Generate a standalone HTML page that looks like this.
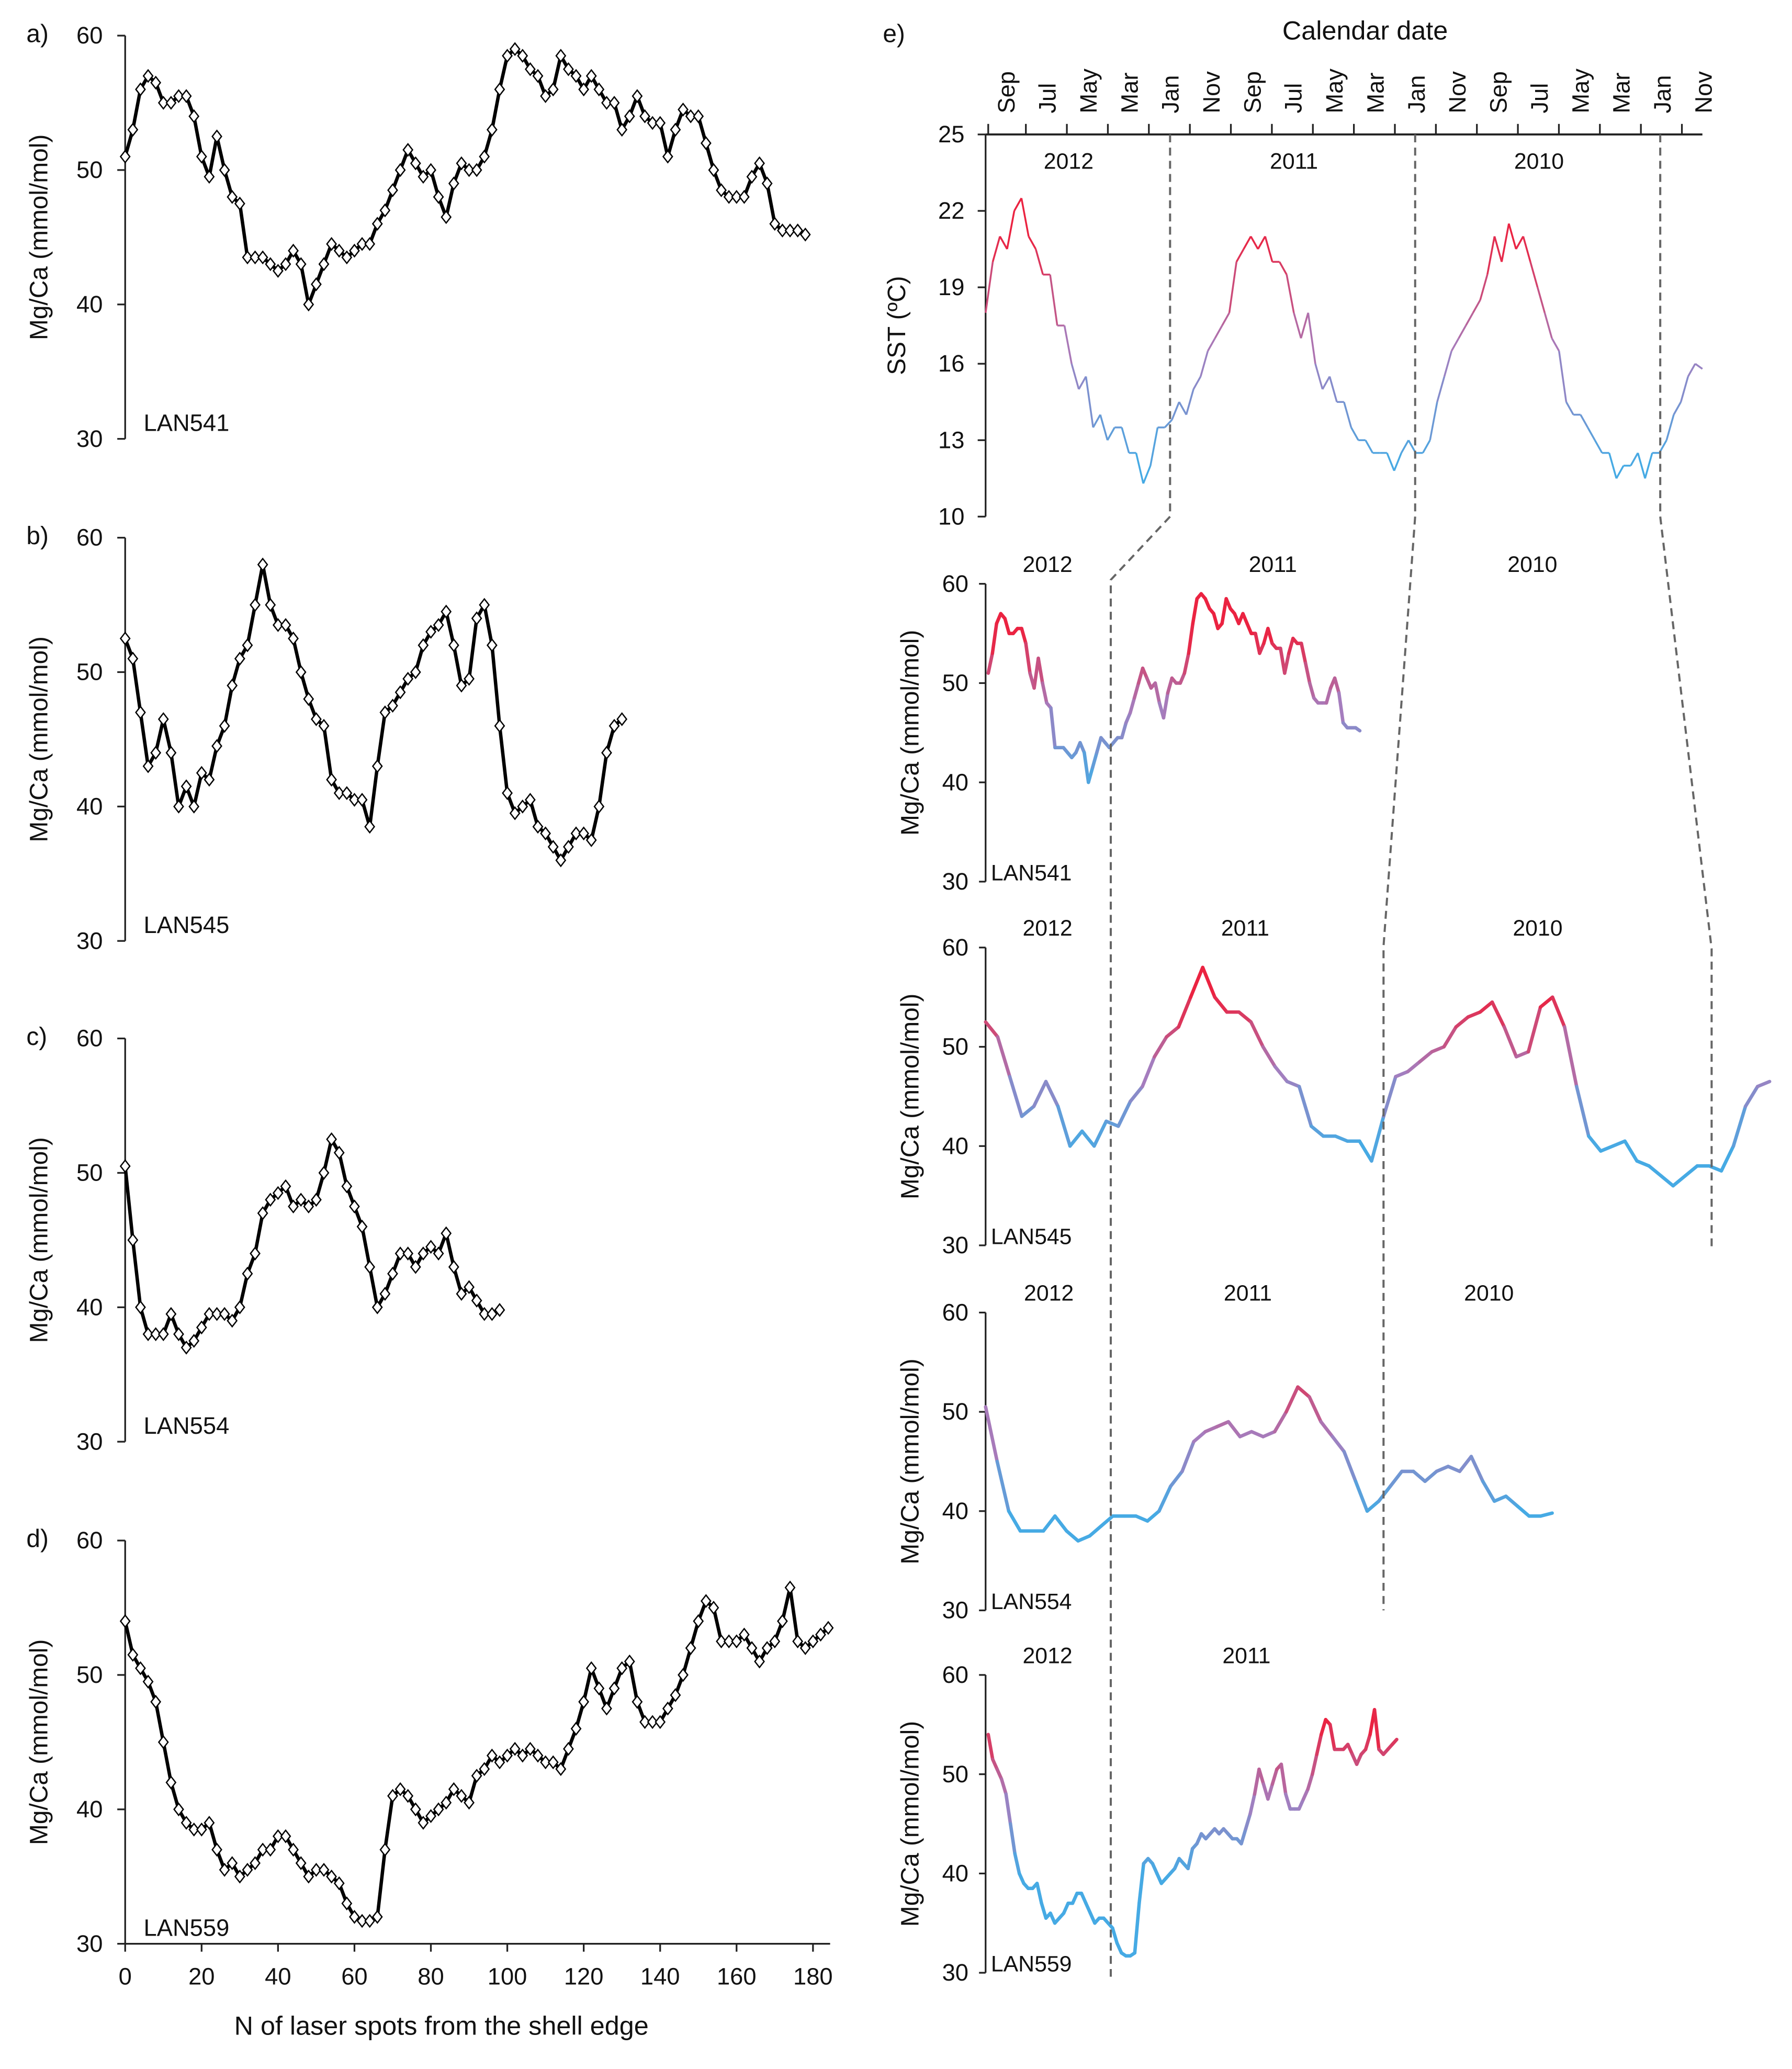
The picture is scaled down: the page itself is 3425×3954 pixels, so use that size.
<!DOCTYPE html>
<html><head><meta charset="utf-8"><style>
html,body{margin:0;padding:0;background:#fff}
svg{display:block}
text{font-family:"Liberation Sans",sans-serif;fill:#111}
</style></head><body>
<svg id="fig" width="3425" height="3954" viewBox="0 0 1360 1570" xmlns="http://www.w3.org/2000/svg"></svg>
<script>
// ---------- data ----------
const spotsA=[0,2,4,6,8,10,12,14,16,18,20,22,24,26,28,30,32,34,36,38,40,42,44,46,48,50,52,54,56,58,60,62,64,66,68,70,72,74,76,78,80,82,84,86,88,90,92,94,96,98,100,102,104,106,108,110,112,114,116,118,120,122,124,126,128,130,132,134,136,138,140,142,144,146,148,150,152,154,156,158,160,162,164,166,168,170,172,174,176,178];
const mgA=[51,53,56,57,56.5,55,55,55.5,55.5,54,51,49.5,52.5,50,48,47.5,43.5,43.5,43.5,43,42.5,43,44,43,40,41.5,43,44.5,44,43.5,44,44.5,44.5,46,47,48.5,50,51.5,50.5,49.5,50,48,46.5,49,50.5,50,50,51,53,56,58.5,59,58.5,57.5,57,55.5,56,58.5,57.5,57,56,57,56,55,55,53,54,55.5,54,53.5,53.5,51,53,54.5,54,54,52,50,48.5,48,48,48,49.5,50.5,49,46,45.5,45.5,45.5,45.2];
const spotsB=[0,2,4,6,8,10,12,14,16,18,20,22,24,26,28,30,32,34,36,38,40,42,44,46,48,50,52,54,56,58,60,62,64,66,68,70,72,74,76,78,80,82,84,86,88,90,92,94,96,98,100,102,104,106,108,110,112,114,116,118,120,122,124,126,128,130];
const mgB=[52.5,51,47,43,44,46.5,44,40,41.5,40,42.5,42,44.5,46,49,51,52,55,58,55,53.5,53.5,52.5,50,48,46.5,46,42,41,41,40.5,40.5,38.5,43,47,47.5,48.5,49.5,50,52,53,53.5,54.5,52,49,49.5,54,55,52,46,41,39.5,40,40.5,38.5,38,37,36,37,38,38,37.5,40,44,46,46.5];
const spotsC=[0,2,4,6,8,10,12,14,16,18,20,22,24,26,28,30,32,34,36,38,40,42,44,46,48,50,52,54,56,58,60,62,64,66,68,70,72,74,76,78,80,82,84,86,88,90,92,94,96,98];
const mgC=[50.5,45,40,38,38,38,39.5,38,37,37.5,38.5,39.5,39.5,39.5,39,40,42.5,44,47,48,48.5,49,47.5,48,47.5,48,50,52.5,51.5,49,47.5,46,43,40,41,42.5,44,44,43,44,44.5,44,45.5,43,41,41.5,40.5,39.5,39.5,39.8];
const spotsD=[0,2,4,6,8,10,12,14,16,18,20,22,24,26,28,30,32,34,36,38,40,42,44,46,48,50,52,54,56,58,60,62,64,66,68,70,72,74,76,78,80,82,84,86,88,90,92,94,96,98,100,102,104,106,108,110,112,114,116,118,120,122,124,126,128,130,132,134,136,138,140,142,144,146,148,150,152,154,156,158,160,162,164,166,168,170,172,174,176,178,180,182,184];
const mgD=[54,51.5,50.5,49.5,48,45,42,40,39,38.5,38.5,39,37,35.5,36,35,35.5,36,37,37,38,38,37,36,35,35.5,35.5,35,34.5,33,32,31.7,31.7,32,37,41,41.5,41,40,39,39.5,40,40.5,41.5,41,40.5,42.5,43,44,43.5,44,44.5,44,44.5,44,43.5,43.5,43,44.5,46,48,50.5,49,47.5,49,50.5,51,48,46.5,46.5,46.5,47.5,48.5,50,52,54,55.5,55,52.5,52.5,52.5,53,52,51,52,52.5,54,56.5,52.5,52,52.5,53,53.5];
const sst=[18,20,21,20.5,22,22.5,21,20.5,19.5,19.5,17.5,17.5,16,15,15.5,13.5,14,13,13.5,13.5,12.5,12.5,11.3,12,13.5,13.5,13.8,14.5,14,15,15.5,16.5,17,17.5,18,20,20.5,21,20.5,21,20,20,19.5,18,17,18,16,15,15.5,14.5,14.5,13.5,13,13,12.5,12.5,12.5,11.8,12.5,13,12.5,12.5,13,14.5,15.5,16.5,17,17.5,18,18.5,19.5,21,20,21.5,20.5,21,20,19,18,17,16.5,14.5,14,14,13.5,13,12.5,12.5,11.5,12,12,12.5,11.5,12.5,12.5,13,14,14.5,15.5,16,15.8];
const leftTicks=[30,40,50,60];
const xTicks=[0,20,40,60,80,100,120,140,160,180];
const sstTicks=[10,13,16,19,22,25];
const months=["Sep","Jul","May","Mar","Jan","Nov","Sep","Jul","May","Mar","Jan","Nov","Sep","Jul","May","Mar","Jan","Nov"];

// ---------- helpers ----------
const NS="http://www.w3.org/2000/svg";
const svg=document.getElementById('fig');
function mk(tag,attrs,parent){const e=document.createElementNS(NS,tag);for(const k in attrs)e.setAttribute(k,attrs[k]);(parent||svg).appendChild(e);return e;}
function txt(s,x,y,size,anchor,parent,rot){const t=mk('text',{x:x,y:y,'font-size':size,'text-anchor':anchor||'start'},parent);if(rot)t.setAttribute('transform','rotate('+rot+' '+x+' '+y+')');t.textContent=s;return t;}
function col(v){let t=Math.max(0,Math.min(1,(v-40)/15));const b=[70,170,228],p=[165,125,190],r=[235,35,65];let a,c,u;if(t<0.5){a=b;c=p;u=t*2}else{a=p;c=r;u=(t-0.5)*2}return 'rgb('+a.map((q,i)=>Math.round(q+(c[i]-q)*u)).join(',')+')';}

// ---------- left panels ----------
const X0=95,XS=2.9;
const xL=s=>X0+s*XS;
const panels=[{lab:'a)',name:'LAN541',top:27,s:spotsA,v:mgA},{lab:'b)',name:'LAN545',top:408,s:spotsB,v:mgB},{lab:'c)',name:'LAN554',top:788,s:spotsC,v:mgC},{lab:'d)',name:'LAN559',top:1169,s:spotsD,v:mgD}];
panels.forEach((P,pi)=>{
  const g=mk('g',{});
  
  
  const yv=v=>P.top+(60-v)*(306/30);
  mk('line',{x1:X0,y1:P.top,x2:X0,y2:P.top+306,stroke:'#222','stroke-width':1.3},g);
  leftTicks.forEach(t=>{mk('line',{x1:X0-6,y1:yv(t),x2:X0,y2:yv(t),stroke:'#222','stroke-width':1.3},g);txt(String(t),78,yv(t)+6,18,'end',g);});
  const lbl=txt(P.lab,20,P.top+5,19,'start',g);
  
  
  const yt=txt('Mg/Ca (mmol/mol)',36,P.top+153,19,'middle',g,-90);
  
  
  txt(P.name,109,P.top+300,18,'start',g);
  const pts=P.s.map((s,i)=>xL(s).toFixed(1)+','+yv(P.v[i]).toFixed(1)).join(' ');
  const pl=mk('polyline',{points:pts,fill:'none',stroke:'#000','stroke-width':2.6,'stroke-linejoin':'round'},g);
  
  
  P.s.forEach((s,i)=>{const x=xL(s),y=yv(P.v[i]);const m=mk('polygon',{points:`${x},${y-4.5} ${x+3.5},${y} ${x},${y+4.5} ${x-3.5},${y}`,fill:'#fff',stroke:'#000','stroke-width':1},g);
    
    });
  if(pi===3){
    mk('line',{x1:X0,y1:1475,x2:630,y2:1475,stroke:'#222','stroke-width':1.3},g);
    xTicks.forEach(t=>{mk('line',{x1:xL(t),y1:1475,x2:xL(t),y2:1481,stroke:'#222','stroke-width':1.3},g);txt(String(t),xL(t),1506,18,'middle',g);});
    const xt=txt('N of laser spots from the shell edge',335,1544,20,'middle',g);
    
    
  }
});

// ---------- right: SST ----------
const RX=748,SX1=1292;
const sg=mk('g',{});


const ys=v=>102+(25-v)*(290/15);
mk('line',{x1:RX,y1:102,x2:RX,y2:392,stroke:'#222','stroke-width':1.3},sg);
mk('line',{x1:RX,y1:102,x2:SX1,y2:102,stroke:'#222','stroke-width':1.5},sg);
sstTicks.forEach(t=>{mk('line',{x1:RX-6,y1:ys(t),x2:RX,y2:ys(t),stroke:'#222','stroke-width':1.3},sg);txt(String(t),732,ys(t)+6,18,'end',sg);});
const mpx=(SX1-763)/17;
months.forEach((m,i)=>{const x=763+i*mpx;txt(m,x+7,86,18,'start',sg,-90);if(i<17)mk('line',{x1:x+mpx/2,y1:94,x2:x+mpx/2,y2:102,stroke:'#222','stroke-width':1.3},sg);});
mk('line',{x1:750,y1:94,x2:750,y2:102,stroke:'#222','stroke-width':1.3},sg);
const ct=txt('Calendar date',1036,30,20,'middle',sg);


const st=txt('SST (ºC)',687,247,19,'middle',sg,-90);


txt('e)',670,32,19,'start',sg);
[['2012',811],['2011',982],['2010',1168]].forEach(a=>txt(a[0],a[1],128,17,'middle',sg));
const sdx=(SX1-RX)/(sst.length-1);
for(let i=0;i<sst.length-1;i++){const l=mk('line',{x1:RX+i*sdx,y1:ys(sst[i]),x2:RX+(i+1)*sdx,y2:ys(sst[i+1]),stroke:col(((sst[i]+sst[i+1])/2-12)/9*15+40),'stroke-width':1.4},sg);
  
  }

// ---------- right: Mg/Ca by date ----------
const rp=[{name:'LAN541',top:443,s:spotsA,v:mgA,x0:750,x1:1032,yrs:[['2012',795],['2011',966],['2010',1163]]},
{name:'LAN545',top:719,s:spotsB,v:mgB,x0:748,x1:1343,yrs:[['2012',795],['2011',945],['2010',1167]]},
{name:'LAN554',top:996,s:spotsC,v:mgC,x0:748,x1:1178,yrs:[['2012',796],['2011',947],['2010',1130]]},
{name:'LAN559',top:1271,s:spotsD,v:mgD,x0:750,x1:1060,yrs:[['2012',795],['2011',946]]}];
rp.forEach(P=>{
  const g=mk('g',{});
  
  
  const yv=v=>P.top+(60-v)*(226/30);
  const smax=P.s[P.s.length-1];
  const xv=s=>P.x0+s*(P.x1-P.x0)/smax;
  mk('line',{x1:RX,y1:P.top,x2:RX,y2:P.top+226,stroke:'#222','stroke-width':1.3},g);
  leftTicks.forEach(t=>{mk('line',{x1:RX-5,y1:yv(t),x2:RX,y2:yv(t),stroke:'#222','stroke-width':1.3},g);txt(String(t),735,yv(t)+6,18,'end',g);});
  txt('Mg/Ca (mmol/mol)',697,P.top+113,19,'middle',g,-90);
  txt(P.name,752,P.top+225,17,'start',g);
  P.yrs.forEach(a=>txt(a[0],a[1],P.top-9,17,'middle',g));
  for(let i=0;i<P.s.length-1;i++){const l=mk('line',{x1:xv(P.s[i]),y1:yv(P.v[i]),x2:xv(P.s[i+1]),y2:yv(P.v[i+1]),stroke:col((P.v[i]+P.v[i+1])/2),'stroke-width':2.6,'stroke-linecap':'round'},g);
    
    }
});

// ---------- dashed connectors ----------
const dg=mk('g',{stroke:'#666','stroke-width':1.6,'stroke-dasharray':'6,4',fill:'none'});


mk('polyline',{points:'888,102 888,392 843,440 843,1500'},dg);
mk('polyline',{points:'1074,102 1074,392 1050,718 1050,1222'},dg);
mk('polyline',{points:'1260,102 1260,392 1299,720 1299,947'},dg);
</script>
</body></html>
